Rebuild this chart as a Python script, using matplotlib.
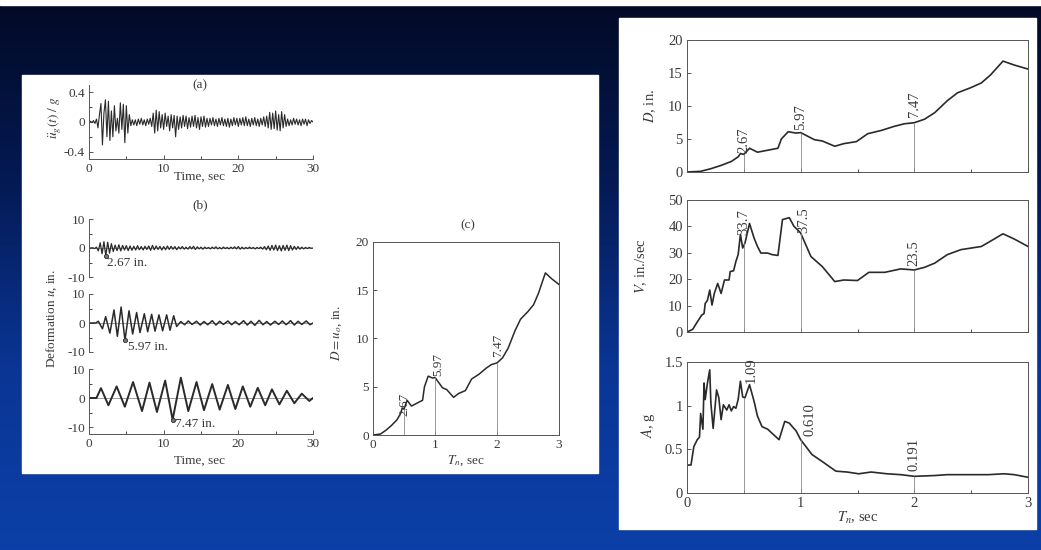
import numpy as np
import matplotlib
matplotlib.use('Agg')
import matplotlib.pyplot as plt
from matplotlib.patches import Rectangle
from matplotlib.colors import LinearSegmentedColormap

W, H = 1041, 550

acc = [0.0, 0.01, -0.01, 0.02, -0.02, 0.04, -0.08, 0.1, 0.25, -0.31,
       0.12, 0.3, -0.2, 0.28, -0.25, 0.15, -0.2, 0.22, -0.12, 0.05,
       -0.15, 0.26, -0.1, 0.24, -0.28, 0.22, -0.15, 0.1, -0.05, 0.03,
       -0.04, 0.03, -0.05, 0.04, -0.03, 0.05, -0.04, 0.03, -0.05, 0.04,
       -0.03, 0.05, -0.06, 0.12, -0.15, 0.16, -0.12, 0.14, -0.08, 0.1,
       -0.1, 0.12, -0.06, 0.08, -0.12, 0.1, -0.08, 0.09, -0.2, 0.08,
       -0.1, 0.07, -0.08, 0.09, -0.06, 0.08, -0.09, 0.06, -0.07, 0.08,
       -0.06, 0.09, -0.08, 0.06, -0.1, 0.07, -0.06, 0.08, -0.07, 0.05,
       -0.06, 0.05, -0.04, 0.06, -0.05, 0.04, -0.06, 0.05, -0.04, 0.06,
       -0.05, 0.04, -0.06, 0.05, -0.07, 0.04, -0.05, 0.06, -0.04, 0.05,
       -0.06, 0.05, -0.04, 0.06, -0.05, 0.07, -0.05, 0.04, -0.06, 0.05,
       -0.04, 0.06, -0.05, 0.04, -0.06, 0.05, -0.04, 0.07, -0.06, 0.08,
       -0.08, 0.13, -0.1, 0.12, -0.09, 0.15, -0.11, 0.1, -0.12, 0.14,
       -0.08, 0.1, -0.06, 0.04, -0.05, 0.03, -0.04, 0.05, -0.03, 0.04,
       -0.04, 0.03, -0.05, 0.04, -0.03, 0.04, -0.05, 0.03, -0.02, 0.02,
       0.0]
acc_dt = 0.2

# deformation, Tn = 0.5 s, sampled every 0.25 s
u1 = [0, 0, 0.1, -0.2, 0.3, -1.0, 1.8, -2.0,
      2.2, -2.67, 2.0, -1.8, 1.5, -1.2, 1.0, -0.9,
      1.1, -1.0, 0.9, -0.7, 0.8, -0.9, 0.7, -0.8,
      0.6, -0.7, 0.8, -0.6, 0.5, -0.7, 0.6, -0.5,
      0.7, -0.8, 0.9, -0.6, 0.7, -0.5, 0.6, -0.7,
      0.5, -0.6, 0.7, -0.5, 0.6, -0.4, 0.5, -0.6,
      0.4, -0.3, 0.5, -0.4, 0.3, -0.4, 0.5, -0.3,
      0.6, -0.5, 0.4, -0.3, 0.3, -0.4, 0.3, -0.2,
      0.2, -0.3, 0.3, -0.2, 0.4, -0.3, 0.2, -0.3,
      0.3, -0.2, 0.2, -0.3, 0.3, -0.2, 0.4, -0.3,
      0.5, -0.4, 0.3, -0.3, 0.2, -0.2, 0.3, -0.2,
      0.2, -0.3, 0.2, -0.2, 0.3, -0.4, 0.5, -0.6,
      0.7, -0.8, 0.9, -0.7, 1.0, -0.9, 0.8, -1.0,
      0.9, -0.8, 1.0, -0.9, 0.8, -0.7, 0.6, -0.5,
      0.5, -0.4, 0.3, -0.3, 0.2, -0.2, 0.2, -0.1,
      0]
u1_dt = 0.25

# deformation, Tn = 1 s (peaks)
t2 = [0, 0.9, 1.25, 1.8, 2.23, 2.8, 3.35, 3.8, 4.3, 4.82, 5.36, 5.85,
      6.38, 6.83, 7.41, 7.86, 8.39, 8.84, 9.37, 9.86, 10.4, 10.85, 11.34, 11.74,
      12.3, 12.8, 13.3, 13.8, 14.4, 14.9, 15.4, 15.9, 16.5, 17.0, 17.5, 18.0,
      18.6, 19.1, 19.6, 20.1, 20.7, 21.2, 21.7, 22.2, 22.8, 23.3, 23.8, 24.3,
      24.9, 25.4, 25.9, 26.4, 27.0, 27.5, 28.0, 28.5, 29.1, 29.6, 30.0]
u2 = [0, 0, 0.6, -2.0, 2.2, -3.5, 4.5, -4.6, 5.5, -5.97, 4.2, -3.8,
      3.6, -3.3, 3.2, -3.0, 3.0, -2.8, 2.8, -2.7, 2.8, -2.5, 2.5, -1.2,
      0.5, -0.6, 0.7, -0.5, 0.6, -0.7, 0.5, -0.6, 0.8, -0.7, 0.6, -0.5,
      0.7, -0.6, 0.5, -0.6, 0.8, -0.7, 0.6, -0.8, 0.9, -0.6, 0.5, -0.7,
      0.6, -0.5, 0.7, -0.6, 0.8, -0.7, 0.6, -0.5, 0.7, -0.6, 0]

# deformation, Tn = 2 s (peaks)
t3 = [0, 1.0, 1.6, 2.6, 3.7, 4.8, 5.9, 7.1, 8.1, 9.1, 10.2, 11.2, 12.3, 13.3,
      14.4, 15.4, 16.5, 17.5, 18.6, 19.6, 20.6, 21.6, 22.6, 23.6, 24.5, 25.5,
      26.5, 27.5, 28.5, 29.5, 30.0]
u3 = [0, 0, 3.4, -2.5, 4.0, -3.0, 5.5, -4.5, 5.3, -4.8, 6.0, -7.47, 7.0, -4.5,
      5.5, -4.2, 4.8, -4.0, 4.5, -3.8, 4.0, -3.0, 3.5, -2.5, 3.0, -2.2,
      2.5, -1.8, 1.5, -1.0, 0]

# response spectra
T_D = [0, 0.12, 0.21, 0.3, 0.39, 0.45, 0.47, 0.5, 0.55, 0.62, 0.71, 0.8, 0.83, 0.89,
       0.96, 1.0, 1.12, 1.19, 1.3, 1.38, 1.49, 1.59, 1.71, 1.82, 1.91, 2.0, 2.09,
       2.18, 2.29, 2.38, 2.5, 2.59, 2.67, 2.78, 2.88, 3.0]
D = [0, 0.1, 0.5, 1.0, 1.6, 2.3, 2.8, 2.67, 3.6, 3.0, 3.3, 3.6, 5.0, 6.1,
     5.9, 5.97, 4.9, 4.7, 3.9, 4.3, 4.6, 5.8, 6.3, 6.9, 7.3, 7.47, 8.0,
     9.0, 10.8, 12.0, 12.8, 13.5, 14.7, 16.8, 16.2, 15.6]

T_V = [0, 0.05, 0.09, 0.13, 0.15, 0.16, 0.18, 0.2, 0.22, 0.24, 0.27, 0.3, 0.33,
       0.37, 0.38, 0.41, 0.43, 0.45, 0.47, 0.49, 0.51, 0.55, 0.59, 0.62, 0.65,
       0.71, 0.75, 0.8, 0.84, 0.9, 0.94, 1.0, 1.09, 1.19, 1.3, 1.38, 1.5, 1.6,
       1.74, 1.88, 2.0, 2.09, 2.18, 2.29, 2.41, 2.59, 2.67, 2.78, 2.88, 3.0]
V = [0, 1, 3.8, 6.4, 7, 10.8, 12, 15.9, 10.2, 14.6, 18.4, 14.6, 19.7,
     19.7, 22.9, 23.2, 26.7, 29.3, 37, 31.8, 33.7, 41.1, 35.6, 32.4, 29.9,
     29.9, 29.3, 29, 42.6, 43.3, 40.1, 37.5, 28.6, 24.8, 19.1, 19.7, 19.5, 22.6,
     22.6, 23.9, 23.5, 24.5, 26.1, 29.3, 31.2, 32.4, 34.4, 37.2, 35.2, 32.4]

T_A = [0, 0.035, 0.06, 0.09, 0.11, 0.12, 0.14, 0.15, 0.16, 0.18, 0.2, 0.21, 0.23,
       0.25, 0.26, 0.28, 0.3, 0.32, 0.35, 0.37, 0.39, 0.41, 0.43, 0.45, 0.47,
       0.49, 0.51, 0.55, 0.59, 0.62, 0.66, 0.71, 0.76, 0.81, 0.86, 0.9, 0.96,
       1.0, 1.1, 1.19, 1.31, 1.41, 1.51, 1.62, 1.76, 1.88, 2.0, 2.18, 2.29,
       2.47, 2.65, 2.79, 2.88, 3.0]
A = [0.32, 0.32, 0.53, 0.61, 0.64, 0.91, 0.73, 1.26, 1.07, 1.26, 1.41, 1.03, 0.74,
     1.03, 1.18, 1.09, 0.84, 1.01, 0.95, 1.01, 0.94, 0.99, 0.97, 1.07, 1.28,
     1.1, 1.09, 1.24, 1.05, 0.88, 0.76, 0.73, 0.67, 0.61, 0.82, 0.8, 0.71,
     0.61, 0.44, 0.36, 0.25, 0.24, 0.22, 0.24, 0.22, 0.21, 0.191, 0.2, 0.21,
     0.21, 0.21, 0.22, 0.21, 0.18]

T_mark = [0.5, 1.0, 2.0]
D_mark = [2.67, 5.97, 7.47]
V_mark = [33.7, 37.5, 23.5]
A_mark = [1.09, 0.610, 0.191]
A_mark_txt = ['1.09', '0.610', '0.191']


plt.rcParams['font.family'] = ['Liberation Serif', 'DejaVu Serif']
plt.rcParams['mathtext.fontset'] = 'stix'
plt.rcParams['axes.unicode_minus'] = False

ink = '#3a3a3a'
curve = '#2a2a2a'


def px(x0, y0, x1, y1):
    return [x0 / W, 1 - y1 / H, (x1 - x0) / W, (y1 - y0) / H]


def ftext(x, y, s, fs, **kw):
    fig.text(x / W, 1 - y / H, s, fontsize=fs, color=ink, ha='center', va='center', **kw)


def style(ax, fs, spines=('left', 'bottom')):
    for s in ['left', 'right', 'top', 'bottom']:
        ax.spines[s].set_visible(s in spines)
        ax.spines[s].set_color('#555555')
        ax.spines[s].set_linewidth(0.7)
    ax.tick_params(direction='in', length=3, width=0.6, labelsize=fs, colors=ink, pad=3)
    ax.tick_params(which='minor', direction='in', length=2, width=0.5)
    ax.set_facecolor('white')


fig = plt.figure(figsize=(W / 100, H / 100), dpi=100)

# slide background
bg = fig.add_axes([0, 0, 1, 1], zorder=-1)
cmap = LinearSegmentedColormap.from_list('slide', ['#020a24', '#041a55', '#0a3594', '#0c40a8'])
grad = np.linspace(0, 1, 256).reshape(-1, 1)
bg.imshow(grad, cmap=cmap, aspect='auto', extent=[0, 1, 0, 1], origin='upper')
bg.add_patch(Rectangle((0, 1 - 5 / H), 1, 5 / H, color='white', transform=bg.transAxes))
bg.add_patch(Rectangle((22 / W, 1 - 473 / H), 576 / W, 398 / H, color='white', transform=bg.transAxes))
bg.add_patch(Rectangle((619 / W, 1 - 529 / H), 417 / W, 511 / H, color='white', transform=bg.transAxes))
bg.set_xlim(0, 1)
bg.set_ylim(0, 1)
bg.axis('off')

fsl = 9.5
fsr = 10.5

# (a) ground acceleration
ax = fig.add_axes(px(89, 85, 313, 159))
style(ax, fsl)
t_acc = np.arange(len(acc)) * acc_dt
ax.plot(t_acc, acc, color=curve, lw=0.8)
ax.set_xlim(0, 30)
ax.set_ylim(-0.5, 0.5)
ax.set_yticks([-0.4, 0, 0.4], ['-0.4', '0', '0.4'])
ax.set_yticks([-0.2, 0.2], minor=True)
ax.set_xticks([0, 10, 20, 30])
ax.set_xticks([5, 15, 25], minor=True)
ftext(200, 85, '(a)', fsl)
ftext(55, 118, r'$\ddot{u}_g(t)\ /\ g$', fsl, rotation=90)
ftext(200, 177, 'Time, sec', fsl)

# (b) deformation histories
boxes = [(219, 277, -10), (294, 352, -10), (369, 434, -12.4)]
series = [(np.arange(len(u1)) * u1_dt, u1, 0.9, '2.67 in.', (1, -5)),
          (t2, u2, 1.1, '5.97 in.', (2, -5)),
          (t3, u3, 1.4, '7.47 in.', (1.5, -3))]
for i, ((y0, y1, ylo), (tt, uu, lw, lab, off)) in enumerate(zip(boxes, series)):
    ax = fig.add_axes(px(89, y0, 313, y1))
    last = i == 2
    style(ax, fsl, ('left', 'bottom') if last else ('left',))
    ax.axhline(0, color='#777777', lw=0.5)
    ax.plot(tt, uu, color=curve, lw=lw, solid_joinstyle='round')
    k = int(np.argmin(uu))
    ax.plot(tt[k], uu[k], 'o', ms=3, mfc='#777777', mec=curve, mew=0.6)
    ax.annotate(lab, (tt[k], uu[k]), xytext=off, textcoords='offset points',
                ha='left', va='center', fontsize=fsl, color=ink)
    ax.set_xlim(0, 30)
    ax.set_ylim(ylo, 10)
    ax.set_yticks([-10, 0, 10])
    ax.set_yticks([-5, 5], minor=True)
    if last:
        ax.set_xticks([0, 10, 20, 30])
        ax.set_xticks([5, 15, 25], minor=True)
    else:
        ax.tick_params(which='both', bottom=False, labelbottom=False)
ftext(200, 205, '(b)', fsl)
ftext(52, 318, r'Deformation $u$, in.', fsl, rotation=90)
ftext(200, 461, 'Time, sec', fsl)

# (c) deformation spectrum
ax = fig.add_axes(px(373, 242, 559, 435))
style(ax, fsl, ('left', 'bottom', 'top', 'right'))
ax.plot(T_D, D, color=curve, lw=1.1)
ax.vlines(T_mark, 0, D_mark, color='#888888', lw=0.6)
for T, v, off in zip(T_mark, D_mark, [(0, -5), (2, 1), (0.5, 4)]):
    ax.annotate(f'{v:.2f}', (T, v), xytext=off, textcoords='offset points',
                rotation=90, ha='center', va='bottom', fontsize=fsl, color=ink)
ax.set_xlim(0, 3)
ax.set_ylim(0, 20)
ax.set_xticks([0, 1, 2, 3])
ax.set_yticks([0, 5, 10, 15, 20])
ftext(468, 225, '(c)', fsl)
ftext(337, 333, r'$D = u_o$, in.', fsl, rotation=90)
ftext(466, 461, r'$T_n$, sec', fsl)

# right panel: D, V, A spectra
specs = [(40, 172, T_D, D, D_mark, [f'{v:.2f}' for v in D_mark], 20, [0, 5, 10, 15, 20],
          [(0, 1), (0, 2), (0, 4)]),
         (200, 332, T_V, V, V_mark, [f'{v:.1f}' for v in V_mark], 50, [0, 10, 20, 30, 40, 50],
          [(0, 6), (2, 0), (0, 2.5)]),
         (362, 493, T_A, A, A_mark, A_mark_txt, 1.5, [0, 0.5, 1, 1.5],
          [(5, 11), (7, 2.5), (0, 3.5)])]
for i, (y0, y1, TT, SS, marks, txt, top, yt, offs) in enumerate(specs):
    ax = fig.add_axes(px(687, y0, 1028, y1))
    style(ax, fsr, ('left', 'bottom', 'top', 'right'))
    ax.plot(TT, SS, color=curve, lw=1.2)
    ax.vlines(T_mark, 0, marks, color='#888888', lw=0.6)
    for T, v, s, off in zip(T_mark, marks, txt, offs):
        ax.annotate(s, (T, v), xytext=off, textcoords='offset points',
                    rotation=90, ha='center', va='bottom', fontsize=fsr, color=ink)
    ax.set_xlim(0, 3)
    ax.set_ylim(0, top)
    ax.set_xticks([0, 1, 2, 3])
    ax.set_xticks([0.5, 1.5, 2.5], minor=True)
    ax.set_yticks(yt, [f'{v:g}' for v in yt])
    if i < 2:
        ax.tick_params(labelbottom=False)
ftext(650, 106, r'$D$, in.', fsr, rotation=90)
ftext(641, 266, r'$V$, in./sec', fsr, rotation=90)
ftext(648, 425, r'$A$, g', fsr, rotation=90)
ftext(858, 518, r'$T_n$, sec', fsr)

fig.savefig('out.png', dpi=100)
